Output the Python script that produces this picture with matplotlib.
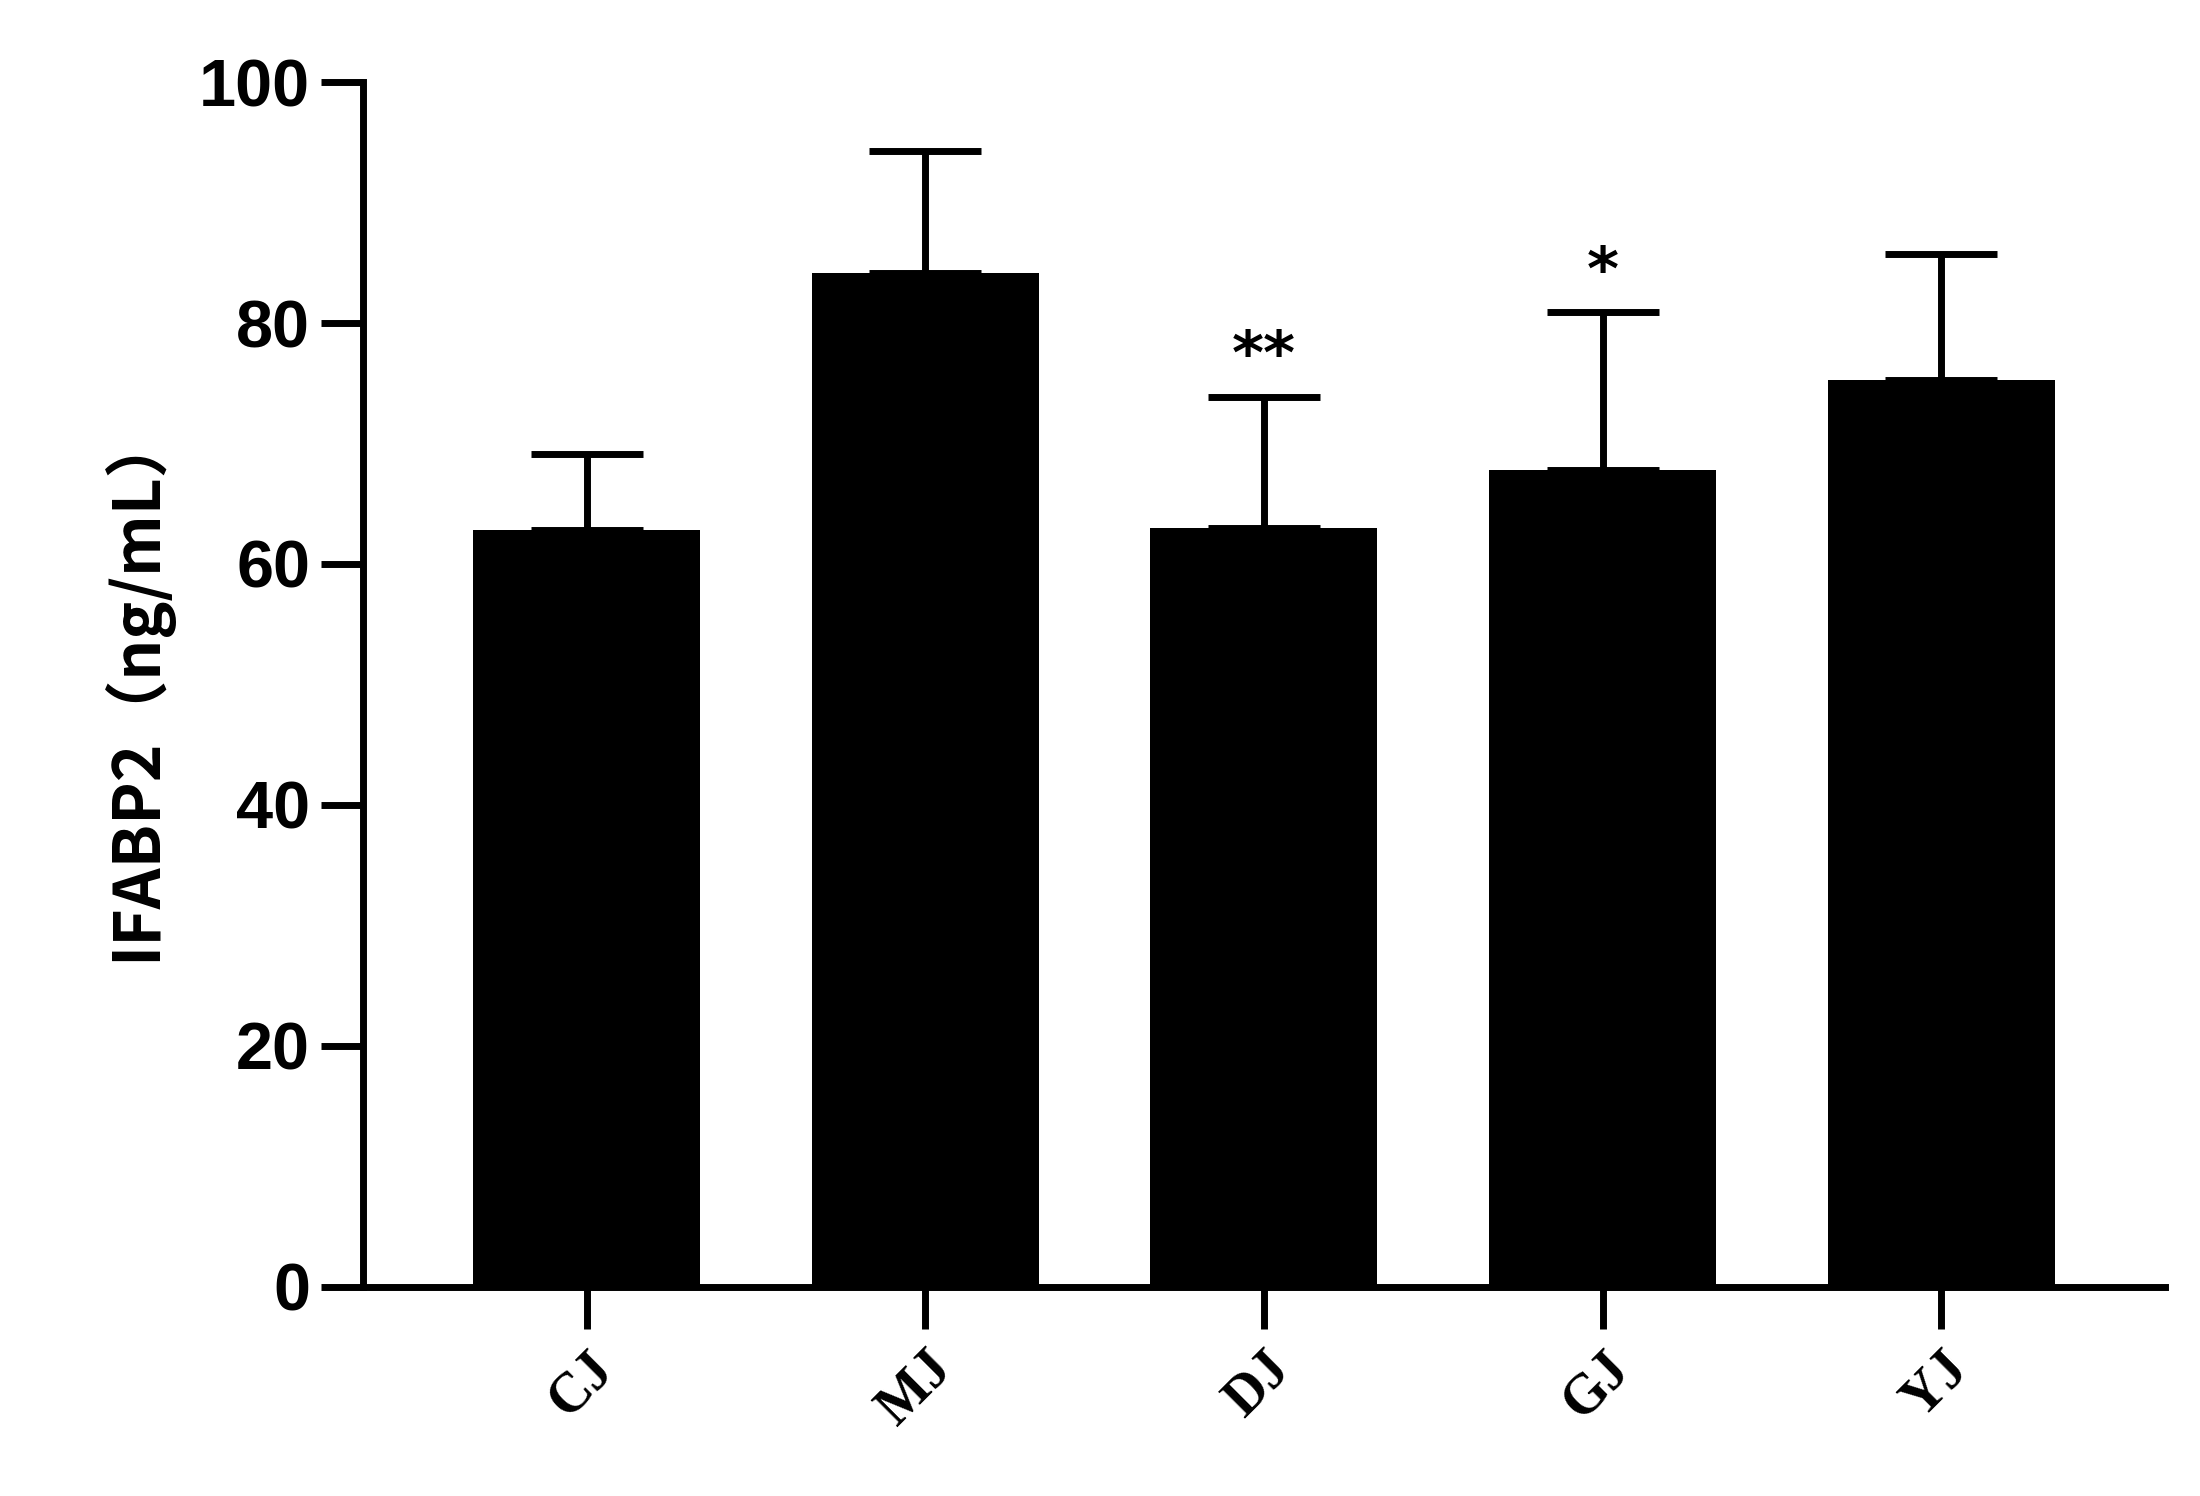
import matplotlib
matplotlib.use("Agg")
import matplotlib.pyplot as plt

groups = ["CJ", "MJ", "DJ", "GJ", "YJ"]
means = [62.8, 84.2, 63.0, 67.8, 75.3]
sds = [6.3, 10.1, 10.9, 13.1, 10.4]
sig = ["", "", "**", "*", ""]

fig = plt.figure(figsize=(22, 14.96), dpi=100)
ax = fig.add_axes([0.165, 0.14, 0.819, 0.805])
x = range(len(groups))
ax.bar(x, means, width=0.67, color="black", zorder=2)
ax.errorbar(x, means, yerr=[[0]*5, sds], fmt="none", ecolor="black",
            elinewidth=5, capsize=40, capthick=5, zorder=1)
for i, (m, s, t) in enumerate(zip(means, sds, sig)):
    if t:
        ax.text(i, m + s + 0.8, t, ha="center", va="bottom", fontsize=44, fontweight="bold")
ax.set_xlim(-0.66, 4.66)
ax.set_ylim(0, 100)
ax.set_yticks(range(0, 101, 20))
ax.set_xticks(list(x))
ax.set_xticklabels(groups, rotation=45, family="Liberation Serif", fontweight="bold", fontsize=40)
for lbl in ax.get_xticklabels():
    lbl.set_ha("right"); lbl.set_va("top")
    lbl.set_rotation_mode("anchor")
ax.tick_params(axis="y", labelsize=48, width=5, length=30, pad=8)
ax.tick_params(axis="x", width=5, length=30, pad=10)
for l in ax.get_yticklabels():
    l.set_fontweight("bold"); l.set_family("Liberation Sans")
for s in ["top", "right"]:
    ax.spines[s].set_visible(False)
for s in ["left", "bottom"]:
    ax.spines[s].set_linewidth(5)
ax.set_ylabel("IFABP2（ng/mL）", fontsize=46, fontweight="bold",
              family=["Noto Sans CJK SC", "DejaVu Sans"], labelpad=20)
fig.savefig("out.png", dpi=100)
